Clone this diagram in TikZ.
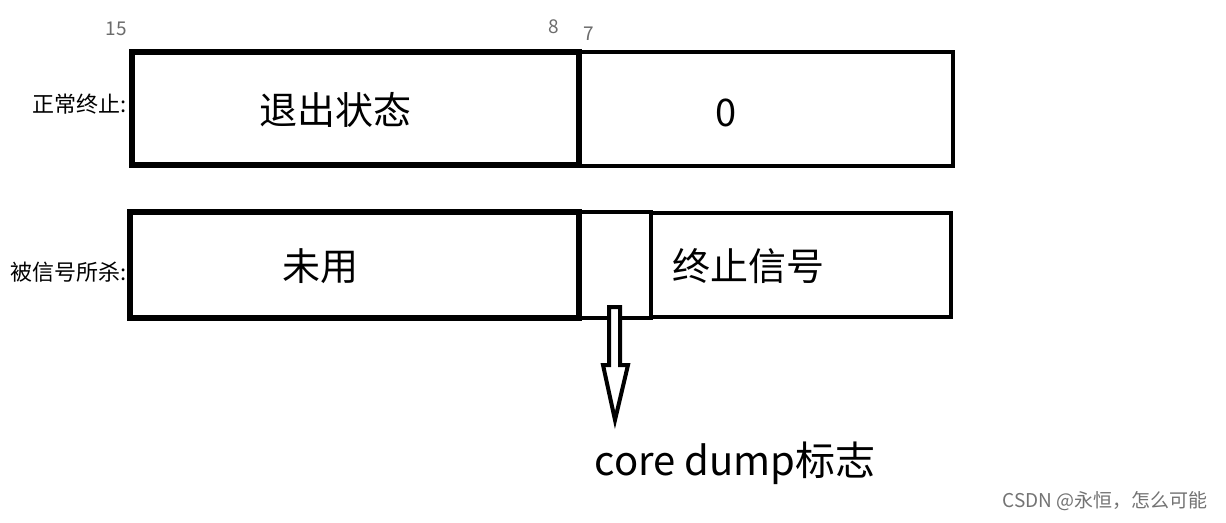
\documentclass[tikz,border=0pt]{standalone}
\usepackage{fontspec}
\setmainfont{Noto Sans CJK SC}
\begin{document}
\begin{tikzpicture}[x=1pt,y=-1pt,
  thickbox/.style={draw=black,line width=6pt},
  thinbox/.style={draw=black,line width=4.5pt},
  bigtxt/.style={font=\fontsize{38}{40}\selectfont},
  lbl/.style={font=\fontsize{22}{24}\selectfont,anchor=east,inner sep=0pt},
  bitnum/.style={font=\fontsize{19}{21}\selectfont,text=gray!85!black,inner sep=0pt}]
\useasboundingbox[fill=white] (0,0) rectangle (1226,522);
% row 1
\draw[thickbox] (132,52) rectangle (579,165);
\draw[thinbox] (579,52) rectangle (953,166);
% row 2
\draw[thickbox] (130,212) rectangle (579,318);
\draw[thinbox] (579,212) rectangle (651,318);
\draw[thinbox] (651,213) rectangle (951,317);
% bit numbers
\node[bitnum] (b15) at (116,29) {15};
\node[bitnum] (b8) at (554,27) {8};
\node[bitnum] (b7) at (589,34) {7};
% labels
\node[lbl] (l1) at (127,104) {正常终止:};
\node[lbl] (l2) at (127,272) {被信号所杀:};
% texts
\node[bigtxt] (t1) at (335,110) {退出状态};
\node[bigtxt] (t2) at (726,113) {0};
\node[bigtxt] (t3) at (320,266) {未用};
\node[bigtxt] (t4) at (748,266) {终止信号};
\node[bigtxt,font=\fontsize{40}{42}\selectfont] (t5) at (735,463) {core dump标志};
% arrow
\draw[line width=4pt,line join=miter,fill=white]
  (609,365) -- (609,307) -- (620,307) -- (620,365) -- (628,365) -- (615,420) -- (603,365) -- cycle;
% watermark
\node[font=\fontsize{19}{21}\selectfont,text=gray!90!black,inner sep=0pt] (wm) at (1105,501) {CSDN @永恒，怎么可能};
\end{tikzpicture}
\end{document}
